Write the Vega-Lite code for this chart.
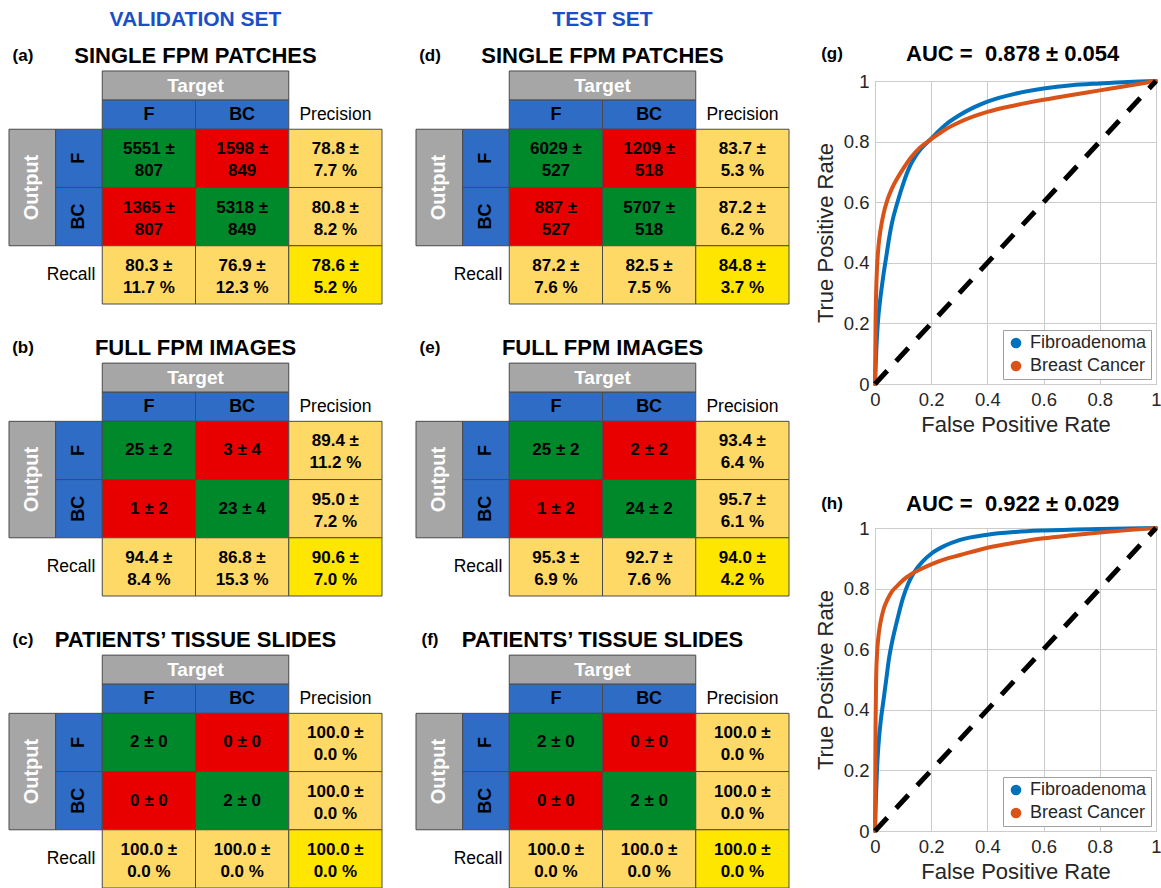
{
  "$schema": "https://vega.github.io/schema/vega-lite/v6.json",
  "padding": {"left": 8, "top": 8, "right": 0, "bottom": 0},
  "autosize": {"type": "pad"},
  "config": {
    "font": "Liberation Sans",
    "view": {"stroke": null},
    "title": {"fontWeight": "bold", "color": "black"},
    "axis": {"labelFontSize": 18.5, "titleFontSize": 22, "titleFontWeight": "normal", "labelColor": "#262626", "titleColor": "#262626", "gridColor": "#cccccc", "domain": false, "ticks": false, "labelFlush": false, "labelOverlap": false, "labelPadding": 6, "titlePadding": 6}
  },
  "datasets": {
    "grid": [
      {"id": "target", "c0": 2, "c1": 6, "r0": 0, "r1": 1, "cx": 4, "cy": 0.5, "kind": "gray", "role": "head", "label": "Target"},
      {"id": "hF", "c0": 2, "c1": 4, "r0": 1, "r1": 2, "cx": 3, "cy": 1.5, "kind": "blue", "role": "colhead", "label": "F"},
      {"id": "hBC", "c0": 4, "c1": 6, "r0": 1, "r1": 2, "cx": 5, "cy": 1.5, "kind": "blue", "role": "colhead", "label": "BC"},
      {"id": "prec", "c0": 6, "c1": 8, "r0": 1, "r1": 2, "cx": 7, "cy": 1.5, "kind": "none", "role": "plain", "label": "Precision"},
      {"id": "output", "c0": 0, "c1": 1, "r0": 2, "r1": 6, "cx": 0.5, "cy": 4, "kind": "gray", "role": "headrot", "label": "Output"},
      {"id": "rF", "c0": 1, "c1": 2, "r0": 2, "r1": 4, "cx": 1.5, "cy": 3, "kind": "blue", "role": "rowhead", "label": "F"},
      {"id": "rBC", "c0": 1, "c1": 2, "r0": 4, "r1": 6, "cx": 1.5, "cy": 5, "kind": "blue", "role": "rowhead", "label": "BC"},
      {"id": "recall", "c0": 0, "c1": 2, "r0": 6, "r1": 8, "cx": 1.33, "cy": 7, "kind": "none", "role": "plain", "label": "Recall"},
      {"id": "FF", "c0": 2, "c1": 4, "r0": 2, "r1": 4, "cx": 3, "cy": 3, "kind": "green", "role": "value", "label": ""},
      {"id": "FBC", "c0": 4, "c1": 6, "r0": 2, "r1": 4, "cx": 5, "cy": 3, "kind": "red", "role": "value", "label": ""},
      {"id": "FP", "c0": 6, "c1": 8, "r0": 2, "r1": 4, "cx": 7, "cy": 3, "kind": "light", "role": "value", "label": ""},
      {"id": "BF", "c0": 2, "c1": 4, "r0": 4, "r1": 6, "cx": 3, "cy": 5, "kind": "red", "role": "value", "label": ""},
      {"id": "BB", "c0": 4, "c1": 6, "r0": 4, "r1": 6, "cx": 5, "cy": 5, "kind": "green", "role": "value", "label": ""},
      {"id": "BP", "c0": 6, "c1": 8, "r0": 4, "r1": 6, "cx": 7, "cy": 5, "kind": "light", "role": "value", "label": ""},
      {"id": "RF", "c0": 2, "c1": 4, "r0": 6, "r1": 8, "cx": 3, "cy": 7, "kind": "light", "role": "value", "label": ""},
      {"id": "RB", "c0": 4, "c1": 6, "r0": 6, "r1": 8, "cx": 5, "cy": 7, "kind": "light", "role": "value", "label": ""},
      {"id": "ACC", "c0": 6, "c1": 8, "r0": 6, "r1": 8, "cx": 7, "cy": 7, "kind": "yellow", "role": "value", "label": ""}
    ],
    "vals": [
      {"panel": "a", "id": "FF", "text": "5551 ±\n807"},
      {"panel": "a", "id": "FBC", "text": "1598 ±\n849"},
      {"panel": "a", "id": "FP", "text": "78.8 ±\n7.7 %"},
      {"panel": "a", "id": "BF", "text": "1365 ±\n807"},
      {"panel": "a", "id": "BB", "text": "5318 ±\n849"},
      {"panel": "a", "id": "BP", "text": "80.8 ±\n8.2 %"},
      {"panel": "a", "id": "RF", "text": "80.3 ±\n11.7 %"},
      {"panel": "a", "id": "RB", "text": "76.9 ±\n12.3 %"},
      {"panel": "a", "id": "ACC", "text": "78.6 ±\n5.2 %"},
      {"panel": "b", "id": "FF", "text": "25 ± 2"},
      {"panel": "b", "id": "FBC", "text": "3 ± 4"},
      {"panel": "b", "id": "FP", "text": "89.4 ±\n11.2 %"},
      {"panel": "b", "id": "BF", "text": "1 ± 2"},
      {"panel": "b", "id": "BB", "text": "23 ± 4"},
      {"panel": "b", "id": "BP", "text": "95.0 ±\n7.2 %"},
      {"panel": "b", "id": "RF", "text": "94.4 ±\n8.4 %"},
      {"panel": "b", "id": "RB", "text": "86.8 ±\n15.3 %"},
      {"panel": "b", "id": "ACC", "text": "90.6 ±\n7.0 %"},
      {"panel": "c", "id": "FF", "text": "2 ± 0"},
      {"panel": "c", "id": "FBC", "text": "0 ± 0"},
      {"panel": "c", "id": "FP", "text": "100.0 ±\n0.0 %"},
      {"panel": "c", "id": "BF", "text": "0 ± 0"},
      {"panel": "c", "id": "BB", "text": "2 ± 0"},
      {"panel": "c", "id": "BP", "text": "100.0 ±\n0.0 %"},
      {"panel": "c", "id": "RF", "text": "100.0 ±\n0.0 %"},
      {"panel": "c", "id": "RB", "text": "100.0 ±\n0.0 %"},
      {"panel": "c", "id": "ACC", "text": "100.0 ±\n0.0 %"},
      {"panel": "d", "id": "FF", "text": "6029 ±\n527"},
      {"panel": "d", "id": "FBC", "text": "1209 ±\n518"},
      {"panel": "d", "id": "FP", "text": "83.7 ±\n5.3 %"},
      {"panel": "d", "id": "BF", "text": "887 ±\n527"},
      {"panel": "d", "id": "BB", "text": "5707 ±\n518"},
      {"panel": "d", "id": "BP", "text": "87.2 ±\n6.2 %"},
      {"panel": "d", "id": "RF", "text": "87.2 ±\n7.6 %"},
      {"panel": "d", "id": "RB", "text": "82.5 ±\n7.5 %"},
      {"panel": "d", "id": "ACC", "text": "84.8 ±\n3.7 %"},
      {"panel": "e", "id": "FF", "text": "25 ± 2"},
      {"panel": "e", "id": "FBC", "text": "2 ± 2"},
      {"panel": "e", "id": "FP", "text": "93.4 ±\n6.4 %"},
      {"panel": "e", "id": "BF", "text": "1 ± 2"},
      {"panel": "e", "id": "BB", "text": "24 ± 2"},
      {"panel": "e", "id": "BP", "text": "95.7 ±\n6.1 %"},
      {"panel": "e", "id": "RF", "text": "95.3 ±\n6.9 %"},
      {"panel": "e", "id": "RB", "text": "92.7 ±\n7.6 %"},
      {"panel": "e", "id": "ACC", "text": "94.0 ±\n4.2 %"},
      {"panel": "f", "id": "FF", "text": "2 ± 0"},
      {"panel": "f", "id": "FBC", "text": "0 ± 0"},
      {"panel": "f", "id": "FP", "text": "100.0 ±\n0.0 %"},
      {"panel": "f", "id": "BF", "text": "0 ± 0"},
      {"panel": "f", "id": "BB", "text": "2 ± 0"},
      {"panel": "f", "id": "BP", "text": "100.0 ±\n0.0 %"},
      {"panel": "f", "id": "RF", "text": "100.0 ±\n0.0 %"},
      {"panel": "f", "id": "RB", "text": "100.0 ±\n0.0 %"},
      {"panel": "f", "id": "ACC", "text": "100.0 ±\n0.0 %"}
    ],
    "rocG": [
      {"s": "Fibroadenoma", "fpr": 0, "tpr": 0},
      {"s": "Fibroadenoma", "fpr": 0.002, "tpr": 0.05},
      {"s": "Fibroadenoma", "fpr": 0.005, "tpr": 0.12},
      {"s": "Fibroadenoma", "fpr": 0.01, "tpr": 0.2},
      {"s": "Fibroadenoma", "fpr": 0.02, "tpr": 0.29},
      {"s": "Fibroadenoma", "fpr": 0.03, "tpr": 0.36},
      {"s": "Fibroadenoma", "fpr": 0.04, "tpr": 0.42},
      {"s": "Fibroadenoma", "fpr": 0.05, "tpr": 0.48},
      {"s": "Fibroadenoma", "fpr": 0.06, "tpr": 0.53},
      {"s": "Fibroadenoma", "fpr": 0.08, "tpr": 0.6},
      {"s": "Fibroadenoma", "fpr": 0.1, "tpr": 0.66},
      {"s": "Fibroadenoma", "fpr": 0.12, "tpr": 0.71},
      {"s": "Fibroadenoma", "fpr": 0.15, "tpr": 0.76},
      {"s": "Fibroadenoma", "fpr": 0.2, "tpr": 0.81},
      {"s": "Fibroadenoma", "fpr": 0.25, "tpr": 0.855},
      {"s": "Fibroadenoma", "fpr": 0.3, "tpr": 0.887},
      {"s": "Fibroadenoma", "fpr": 0.35, "tpr": 0.912},
      {"s": "Fibroadenoma", "fpr": 0.4, "tpr": 0.932},
      {"s": "Fibroadenoma", "fpr": 0.5, "tpr": 0.958},
      {"s": "Fibroadenoma", "fpr": 0.6, "tpr": 0.975},
      {"s": "Fibroadenoma", "fpr": 0.7, "tpr": 0.986},
      {"s": "Fibroadenoma", "fpr": 0.8, "tpr": 0.992},
      {"s": "Fibroadenoma", "fpr": 0.9, "tpr": 0.997},
      {"s": "Fibroadenoma", "fpr": 1, "tpr": 1},
      {"s": "Breast Cancer", "fpr": 0, "tpr": 0},
      {"s": "Breast Cancer", "fpr": 0.001, "tpr": 0.1},
      {"s": "Breast Cancer", "fpr": 0.002, "tpr": 0.2},
      {"s": "Breast Cancer", "fpr": 0.004, "tpr": 0.3},
      {"s": "Breast Cancer", "fpr": 0.007, "tpr": 0.38},
      {"s": "Breast Cancer", "fpr": 0.012, "tpr": 0.45},
      {"s": "Breast Cancer", "fpr": 0.02, "tpr": 0.51},
      {"s": "Breast Cancer", "fpr": 0.03, "tpr": 0.56},
      {"s": "Breast Cancer", "fpr": 0.045, "tpr": 0.61},
      {"s": "Breast Cancer", "fpr": 0.06, "tpr": 0.645},
      {"s": "Breast Cancer", "fpr": 0.08, "tpr": 0.68},
      {"s": "Breast Cancer", "fpr": 0.1, "tpr": 0.71},
      {"s": "Breast Cancer", "fpr": 0.13, "tpr": 0.75},
      {"s": "Breast Cancer", "fpr": 0.16, "tpr": 0.78},
      {"s": "Breast Cancer", "fpr": 0.2, "tpr": 0.808},
      {"s": "Breast Cancer", "fpr": 0.25, "tpr": 0.84},
      {"s": "Breast Cancer", "fpr": 0.3, "tpr": 0.864},
      {"s": "Breast Cancer", "fpr": 0.4, "tpr": 0.898},
      {"s": "Breast Cancer", "fpr": 0.5, "tpr": 0.92},
      {"s": "Breast Cancer", "fpr": 0.6, "tpr": 0.938},
      {"s": "Breast Cancer", "fpr": 0.7, "tpr": 0.954},
      {"s": "Breast Cancer", "fpr": 0.8, "tpr": 0.969},
      {"s": "Breast Cancer", "fpr": 0.9, "tpr": 0.984},
      {"s": "Breast Cancer", "fpr": 1, "tpr": 1}
    ],
    "rocH": [
      {"s": "Fibroadenoma", "fpr": 0, "tpr": 0},
      {"s": "Fibroadenoma", "fpr": 0.003, "tpr": 0.1},
      {"s": "Fibroadenoma", "fpr": 0.007, "tpr": 0.2},
      {"s": "Fibroadenoma", "fpr": 0.012, "tpr": 0.28},
      {"s": "Fibroadenoma", "fpr": 0.02, "tpr": 0.36},
      {"s": "Fibroadenoma", "fpr": 0.03, "tpr": 0.43},
      {"s": "Fibroadenoma", "fpr": 0.04, "tpr": 0.5},
      {"s": "Fibroadenoma", "fpr": 0.05, "tpr": 0.57},
      {"s": "Fibroadenoma", "fpr": 0.06, "tpr": 0.62},
      {"s": "Fibroadenoma", "fpr": 0.08, "tpr": 0.7},
      {"s": "Fibroadenoma", "fpr": 0.1, "tpr": 0.77},
      {"s": "Fibroadenoma", "fpr": 0.12, "tpr": 0.82},
      {"s": "Fibroadenoma", "fpr": 0.14, "tpr": 0.855},
      {"s": "Fibroadenoma", "fpr": 0.17, "tpr": 0.89},
      {"s": "Fibroadenoma", "fpr": 0.2, "tpr": 0.915},
      {"s": "Fibroadenoma", "fpr": 0.25, "tpr": 0.942},
      {"s": "Fibroadenoma", "fpr": 0.3, "tpr": 0.96},
      {"s": "Fibroadenoma", "fpr": 0.4, "tpr": 0.978},
      {"s": "Fibroadenoma", "fpr": 0.5, "tpr": 0.987},
      {"s": "Fibroadenoma", "fpr": 0.6, "tpr": 0.992},
      {"s": "Fibroadenoma", "fpr": 0.8, "tpr": 0.997},
      {"s": "Fibroadenoma", "fpr": 1, "tpr": 1},
      {"s": "Breast Cancer", "fpr": 0, "tpr": 0},
      {"s": "Breast Cancer", "fpr": 0.001, "tpr": 0.2},
      {"s": "Breast Cancer", "fpr": 0.002, "tpr": 0.35},
      {"s": "Breast Cancer", "fpr": 0.004, "tpr": 0.5},
      {"s": "Breast Cancer", "fpr": 0.007, "tpr": 0.58},
      {"s": "Breast Cancer", "fpr": 0.012, "tpr": 0.64},
      {"s": "Breast Cancer", "fpr": 0.02, "tpr": 0.69},
      {"s": "Breast Cancer", "fpr": 0.03, "tpr": 0.73},
      {"s": "Breast Cancer", "fpr": 0.045, "tpr": 0.765},
      {"s": "Breast Cancer", "fpr": 0.06, "tpr": 0.79},
      {"s": "Breast Cancer", "fpr": 0.08, "tpr": 0.81},
      {"s": "Breast Cancer", "fpr": 0.1, "tpr": 0.828},
      {"s": "Breast Cancer", "fpr": 0.13, "tpr": 0.848},
      {"s": "Breast Cancer", "fpr": 0.16, "tpr": 0.863},
      {"s": "Breast Cancer", "fpr": 0.2, "tpr": 0.88},
      {"s": "Breast Cancer", "fpr": 0.25, "tpr": 0.897},
      {"s": "Breast Cancer", "fpr": 0.3, "tpr": 0.91},
      {"s": "Breast Cancer", "fpr": 0.4, "tpr": 0.935},
      {"s": "Breast Cancer", "fpr": 0.5, "tpr": 0.952},
      {"s": "Breast Cancer", "fpr": 0.6, "tpr": 0.966},
      {"s": "Breast Cancer", "fpr": 0.7, "tpr": 0.976},
      {"s": "Breast Cancer", "fpr": 0.8, "tpr": 0.985},
      {"s": "Breast Cancer", "fpr": 0.9, "tpr": 0.993},
      {"s": "Breast Cancer", "fpr": 1, "tpr": 1}
    ]
  },
  "hconcat": [
    {
      "hconcat": [
        {
          "title": {"text": "VALIDATION SET", "anchor": "middle", "fontSize": 21, "color": "#1A4FC8", "offset": 15},
          "spacing": 29,
          "vconcat": [
            {
              "width": 373, "height": 223,
              "layer": [
                {"data": {"name": "grid"}, "transform": [{"filter": "datum.kind != 'none'"}], "mark": {"type": "rect", "stroke": "#4a4a4a", "strokeWidth": 1},
                 "encoding": {"x": {"field": "c0", "type": "quantitative", "scale": {"domain": [0, 8], "nice": false, "zero": false}, "axis": null}, "x2": {"field": "c1"}, "y": {"field": "r0", "type": "quantitative", "scale": {"domain": [0.344, 8], "reverse": true, "nice": false, "zero": false}, "axis": null}, "y2": {"field": "r1"}, "fill": {"field": "kind", "type": "nominal", "scale": {"domain": ["gray", "blue", "green", "red", "light", "yellow"], "range": ["#A6A6A6", "#2E6CC5", "#00892A", "#E80000", "#FFD966", "#FFE600"]}, "legend": null}}},
                {"data": {"name": "grid"}, "transform": [{"filter": "datum.role == 'head'"}], "mark": {"type": "text", "color": "white", "fontWeight": "bold", "fontSize": 19}, "encoding": {"x": {"field": "cx", "type": "quantitative"}, "y": {"field": "cy", "type": "quantitative"}, "text": {"field": "label"}}},
                {"data": {"name": "grid"}, "transform": [{"filter": "datum.role == 'headrot'"}], "mark": {"type": "text", "color": "white", "fontWeight": "bold", "fontSize": 20, "angle": 270}, "encoding": {"x": {"field": "cx", "type": "quantitative"}, "y": {"field": "cy", "type": "quantitative"}, "text": {"field": "label"}}},
                {"data": {"name": "grid"}, "transform": [{"filter": "datum.role == 'colhead'"}], "mark": {"type": "text", "color": "black", "fontWeight": "bold", "fontSize": 18}, "encoding": {"x": {"field": "cx", "type": "quantitative"}, "y": {"field": "cy", "type": "quantitative"}, "text": {"field": "label"}}},
                {"data": {"name": "grid"}, "transform": [{"filter": "datum.role == 'rowhead'"}], "mark": {"type": "text", "color": "black", "fontWeight": "bold", "fontSize": 18, "angle": 270}, "encoding": {"x": {"field": "cx", "type": "quantitative"}, "y": {"field": "cy", "type": "quantitative"}, "text": {"field": "label"}}},
                {"data": {"name": "grid"}, "transform": [{"filter": "datum.role == 'plain'"}], "mark": {"type": "text", "color": "black", "fontSize": 17.5}, "encoding": {"x": {"field": "cx", "type": "quantitative"}, "y": {"field": "cy", "type": "quantitative"}, "text": {"field": "label"}}},
                {"data": {"name": "vals"}, "transform": [{"filter": "datum.panel == 'a' && indexof(datum.text, '\\n') >= 0"}, {"lookup": "id", "from": {"data": {"name": "grid"}, "key": "id", "fields": ["cx", "cy"]}}], "mark": {"type": "text", "color": "black", "fontWeight": "bold", "fontSize": 17, "lineHeight": 22, "lineBreak": "\n", "dy": -9}, "encoding": {"x": {"field": "cx", "type": "quantitative"}, "y": {"field": "cy", "type": "quantitative"}, "text": {"field": "text"}}},
                {"data": {"name": "vals"}, "transform": [{"filter": "datum.panel == 'a' && indexof(datum.text, '\\n') < 0"}, {"lookup": "id", "from": {"data": {"name": "grid"}, "key": "id", "fields": ["cx", "cy"]}}], "mark": {"type": "text", "color": "black", "fontWeight": "bold", "fontSize": 17}, "encoding": {"x": {"field": "cx", "type": "quantitative"}, "y": {"field": "cy", "type": "quantitative"}, "text": {"field": "text"}}},
                {"data": {"values": [{}]}, "mark": {"type": "text", "fontWeight": "bold", "fontSize": 22}, "encoding": {"x": {"datum": 4}, "y": {"datum": -0.52}, "text": {"value": "SINGLE FPM PATCHES"}}},
                {"data": {"values": [{}]}, "mark": {"type": "text", "fontWeight": "bold", "fontSize": 17}, "encoding": {"x": {"datum": 0.3}, "y": {"datum": -0.52}, "text": {"value": "(a)"}}}
              ]
            },
            {
              "width": 373, "height": 262,
              "layer": [
                {"data": {"name": "grid"}, "transform": [{"filter": "datum.kind != 'none'"}], "mark": {"type": "rect", "stroke": "#4a4a4a", "strokeWidth": 1},
                 "encoding": {"x": {"field": "c0", "type": "quantitative", "scale": {"domain": [0, 8], "nice": false, "zero": false}, "axis": null}, "x2": {"field": "c1"}, "y": {"field": "r0", "type": "quantitative", "scale": {"domain": [-1, 8], "reverse": true, "nice": false, "zero": false}, "axis": null}, "y2": {"field": "r1"}, "fill": {"field": "kind", "type": "nominal", "scale": {"domain": ["gray", "blue", "green", "red", "light", "yellow"], "range": ["#A6A6A6", "#2E6CC5", "#00892A", "#E80000", "#FFD966", "#FFE600"]}, "legend": null}}},
                {"data": {"name": "grid"}, "transform": [{"filter": "datum.role == 'head'"}], "mark": {"type": "text", "color": "white", "fontWeight": "bold", "fontSize": 19}, "encoding": {"x": {"field": "cx", "type": "quantitative"}, "y": {"field": "cy", "type": "quantitative"}, "text": {"field": "label"}}},
                {"data": {"name": "grid"}, "transform": [{"filter": "datum.role == 'headrot'"}], "mark": {"type": "text", "color": "white", "fontWeight": "bold", "fontSize": 20, "angle": 270}, "encoding": {"x": {"field": "cx", "type": "quantitative"}, "y": {"field": "cy", "type": "quantitative"}, "text": {"field": "label"}}},
                {"data": {"name": "grid"}, "transform": [{"filter": "datum.role == 'colhead'"}], "mark": {"type": "text", "color": "black", "fontWeight": "bold", "fontSize": 18}, "encoding": {"x": {"field": "cx", "type": "quantitative"}, "y": {"field": "cy", "type": "quantitative"}, "text": {"field": "label"}}},
                {"data": {"name": "grid"}, "transform": [{"filter": "datum.role == 'rowhead'"}], "mark": {"type": "text", "color": "black", "fontWeight": "bold", "fontSize": 18, "angle": 270}, "encoding": {"x": {"field": "cx", "type": "quantitative"}, "y": {"field": "cy", "type": "quantitative"}, "text": {"field": "label"}}},
                {"data": {"name": "grid"}, "transform": [{"filter": "datum.role == 'plain'"}], "mark": {"type": "text", "color": "black", "fontSize": 17.5}, "encoding": {"x": {"field": "cx", "type": "quantitative"}, "y": {"field": "cy", "type": "quantitative"}, "text": {"field": "label"}}},
                {"data": {"name": "vals"}, "transform": [{"filter": "datum.panel == 'b' && indexof(datum.text, '\\n') >= 0"}, {"lookup": "id", "from": {"data": {"name": "grid"}, "key": "id", "fields": ["cx", "cy"]}}], "mark": {"type": "text", "color": "black", "fontWeight": "bold", "fontSize": 17, "lineHeight": 22, "lineBreak": "\n", "dy": -9}, "encoding": {"x": {"field": "cx", "type": "quantitative"}, "y": {"field": "cy", "type": "quantitative"}, "text": {"field": "text"}}},
                {"data": {"name": "vals"}, "transform": [{"filter": "datum.panel == 'b' && indexof(datum.text, '\\n') < 0"}, {"lookup": "id", "from": {"data": {"name": "grid"}, "key": "id", "fields": ["cx", "cy"]}}], "mark": {"type": "text", "color": "black", "fontWeight": "bold", "fontSize": 17}, "encoding": {"x": {"field": "cx", "type": "quantitative"}, "y": {"field": "cy", "type": "quantitative"}, "text": {"field": "text"}}},
                {"data": {"values": [{}]}, "mark": {"type": "text", "fontWeight": "bold", "fontSize": 22}, "encoding": {"x": {"datum": 4}, "y": {"datum": -0.52}, "text": {"value": "FULL FPM IMAGES"}}},
                {"data": {"values": [{}]}, "mark": {"type": "text", "fontWeight": "bold", "fontSize": 17}, "encoding": {"x": {"datum": 0.3}, "y": {"datum": -0.52}, "text": {"value": "(b)"}}}
              ]
            },
            {
              "width": 373, "height": 262,
              "layer": [
                {"data": {"name": "grid"}, "transform": [{"filter": "datum.kind != 'none'"}], "mark": {"type": "rect", "stroke": "#4a4a4a", "strokeWidth": 1},
                 "encoding": {"x": {"field": "c0", "type": "quantitative", "scale": {"domain": [0, 8], "nice": false, "zero": false}, "axis": null}, "x2": {"field": "c1"}, "y": {"field": "r0", "type": "quantitative", "scale": {"domain": [-1, 8], "reverse": true, "nice": false, "zero": false}, "axis": null}, "y2": {"field": "r1"}, "fill": {"field": "kind", "type": "nominal", "scale": {"domain": ["gray", "blue", "green", "red", "light", "yellow"], "range": ["#A6A6A6", "#2E6CC5", "#00892A", "#E80000", "#FFD966", "#FFE600"]}, "legend": null}}},
                {"data": {"name": "grid"}, "transform": [{"filter": "datum.role == 'head'"}], "mark": {"type": "text", "color": "white", "fontWeight": "bold", "fontSize": 19}, "encoding": {"x": {"field": "cx", "type": "quantitative"}, "y": {"field": "cy", "type": "quantitative"}, "text": {"field": "label"}}},
                {"data": {"name": "grid"}, "transform": [{"filter": "datum.role == 'headrot'"}], "mark": {"type": "text", "color": "white", "fontWeight": "bold", "fontSize": 20, "angle": 270}, "encoding": {"x": {"field": "cx", "type": "quantitative"}, "y": {"field": "cy", "type": "quantitative"}, "text": {"field": "label"}}},
                {"data": {"name": "grid"}, "transform": [{"filter": "datum.role == 'colhead'"}], "mark": {"type": "text", "color": "black", "fontWeight": "bold", "fontSize": 18}, "encoding": {"x": {"field": "cx", "type": "quantitative"}, "y": {"field": "cy", "type": "quantitative"}, "text": {"field": "label"}}},
                {"data": {"name": "grid"}, "transform": [{"filter": "datum.role == 'rowhead'"}], "mark": {"type": "text", "color": "black", "fontWeight": "bold", "fontSize": 18, "angle": 270}, "encoding": {"x": {"field": "cx", "type": "quantitative"}, "y": {"field": "cy", "type": "quantitative"}, "text": {"field": "label"}}},
                {"data": {"name": "grid"}, "transform": [{"filter": "datum.role == 'plain'"}], "mark": {"type": "text", "color": "black", "fontSize": 17.5}, "encoding": {"x": {"field": "cx", "type": "quantitative"}, "y": {"field": "cy", "type": "quantitative"}, "text": {"field": "label"}}},
                {"data": {"name": "vals"}, "transform": [{"filter": "datum.panel == 'c' && indexof(datum.text, '\\n') >= 0"}, {"lookup": "id", "from": {"data": {"name": "grid"}, "key": "id", "fields": ["cx", "cy"]}}], "mark": {"type": "text", "color": "black", "fontWeight": "bold", "fontSize": 17, "lineHeight": 22, "lineBreak": "\n", "dy": -9}, "encoding": {"x": {"field": "cx", "type": "quantitative"}, "y": {"field": "cy", "type": "quantitative"}, "text": {"field": "text"}}},
                {"data": {"name": "vals"}, "transform": [{"filter": "datum.panel == 'c' && indexof(datum.text, '\\n') < 0"}, {"lookup": "id", "from": {"data": {"name": "grid"}, "key": "id", "fields": ["cx", "cy"]}}], "mark": {"type": "text", "color": "black", "fontWeight": "bold", "fontSize": 17}, "encoding": {"x": {"field": "cx", "type": "quantitative"}, "y": {"field": "cy", "type": "quantitative"}, "text": {"field": "text"}}},
                {"data": {"values": [{}]}, "mark": {"type": "text", "fontWeight": "bold", "fontSize": 22}, "encoding": {"x": {"datum": 4}, "y": {"datum": -0.52}, "text": {"value": "PATIENTS’ TISSUE SLIDES"}}},
                {"data": {"values": [{}]}, "mark": {"type": "text", "fontWeight": "bold", "fontSize": 17}, "encoding": {"x": {"datum": 0.3}, "y": {"datum": -0.52}, "text": {"value": "(c)"}}}
              ]
            }
          ]
        },
        {
          "title": {"text": "TEST SET", "anchor": "middle", "fontSize": 21, "color": "#1A4FC8", "offset": 15},
          "spacing": 29,
          "vconcat": [
            {
              "width": 373, "height": 223,
              "layer": [
                {"data": {"name": "grid"}, "transform": [{"filter": "datum.kind != 'none'"}], "mark": {"type": "rect", "stroke": "#4a4a4a", "strokeWidth": 1},
                 "encoding": {"x": {"field": "c0", "type": "quantitative", "scale": {"domain": [0, 8], "nice": false, "zero": false}, "axis": null}, "x2": {"field": "c1"}, "y": {"field": "r0", "type": "quantitative", "scale": {"domain": [0.344, 8], "reverse": true, "nice": false, "zero": false}, "axis": null}, "y2": {"field": "r1"}, "fill": {"field": "kind", "type": "nominal", "scale": {"domain": ["gray", "blue", "green", "red", "light", "yellow"], "range": ["#A6A6A6", "#2E6CC5", "#00892A", "#E80000", "#FFD966", "#FFE600"]}, "legend": null}}},
                {"data": {"name": "grid"}, "transform": [{"filter": "datum.role == 'head'"}], "mark": {"type": "text", "color": "white", "fontWeight": "bold", "fontSize": 19}, "encoding": {"x": {"field": "cx", "type": "quantitative"}, "y": {"field": "cy", "type": "quantitative"}, "text": {"field": "label"}}},
                {"data": {"name": "grid"}, "transform": [{"filter": "datum.role == 'headrot'"}], "mark": {"type": "text", "color": "white", "fontWeight": "bold", "fontSize": 20, "angle": 270}, "encoding": {"x": {"field": "cx", "type": "quantitative"}, "y": {"field": "cy", "type": "quantitative"}, "text": {"field": "label"}}},
                {"data": {"name": "grid"}, "transform": [{"filter": "datum.role == 'colhead'"}], "mark": {"type": "text", "color": "black", "fontWeight": "bold", "fontSize": 18}, "encoding": {"x": {"field": "cx", "type": "quantitative"}, "y": {"field": "cy", "type": "quantitative"}, "text": {"field": "label"}}},
                {"data": {"name": "grid"}, "transform": [{"filter": "datum.role == 'rowhead'"}], "mark": {"type": "text", "color": "black", "fontWeight": "bold", "fontSize": 18, "angle": 270}, "encoding": {"x": {"field": "cx", "type": "quantitative"}, "y": {"field": "cy", "type": "quantitative"}, "text": {"field": "label"}}},
                {"data": {"name": "grid"}, "transform": [{"filter": "datum.role == 'plain'"}], "mark": {"type": "text", "color": "black", "fontSize": 17.5}, "encoding": {"x": {"field": "cx", "type": "quantitative"}, "y": {"field": "cy", "type": "quantitative"}, "text": {"field": "label"}}},
                {"data": {"name": "vals"}, "transform": [{"filter": "datum.panel == 'd' && indexof(datum.text, '\\n') >= 0"}, {"lookup": "id", "from": {"data": {"name": "grid"}, "key": "id", "fields": ["cx", "cy"]}}], "mark": {"type": "text", "color": "black", "fontWeight": "bold", "fontSize": 17, "lineHeight": 22, "lineBreak": "\n", "dy": -9}, "encoding": {"x": {"field": "cx", "type": "quantitative"}, "y": {"field": "cy", "type": "quantitative"}, "text": {"field": "text"}}},
                {"data": {"name": "vals"}, "transform": [{"filter": "datum.panel == 'd' && indexof(datum.text, '\\n') < 0"}, {"lookup": "id", "from": {"data": {"name": "grid"}, "key": "id", "fields": ["cx", "cy"]}}], "mark": {"type": "text", "color": "black", "fontWeight": "bold", "fontSize": 17}, "encoding": {"x": {"field": "cx", "type": "quantitative"}, "y": {"field": "cy", "type": "quantitative"}, "text": {"field": "text"}}},
                {"data": {"values": [{}]}, "mark": {"type": "text", "fontWeight": "bold", "fontSize": 22}, "encoding": {"x": {"datum": 4}, "y": {"datum": -0.52}, "text": {"value": "SINGLE FPM PATCHES"}}},
                {"data": {"values": [{}]}, "mark": {"type": "text", "fontWeight": "bold", "fontSize": 17}, "encoding": {"x": {"datum": 0.3}, "y": {"datum": -0.52}, "text": {"value": "(d)"}}}
              ]
            },
            {
              "width": 373, "height": 262,
              "layer": [
                {"data": {"name": "grid"}, "transform": [{"filter": "datum.kind != 'none'"}], "mark": {"type": "rect", "stroke": "#4a4a4a", "strokeWidth": 1},
                 "encoding": {"x": {"field": "c0", "type": "quantitative", "scale": {"domain": [0, 8], "nice": false, "zero": false}, "axis": null}, "x2": {"field": "c1"}, "y": {"field": "r0", "type": "quantitative", "scale": {"domain": [-1, 8], "reverse": true, "nice": false, "zero": false}, "axis": null}, "y2": {"field": "r1"}, "fill": {"field": "kind", "type": "nominal", "scale": {"domain": ["gray", "blue", "green", "red", "light", "yellow"], "range": ["#A6A6A6", "#2E6CC5", "#00892A", "#E80000", "#FFD966", "#FFE600"]}, "legend": null}}},
                {"data": {"name": "grid"}, "transform": [{"filter": "datum.role == 'head'"}], "mark": {"type": "text", "color": "white", "fontWeight": "bold", "fontSize": 19}, "encoding": {"x": {"field": "cx", "type": "quantitative"}, "y": {"field": "cy", "type": "quantitative"}, "text": {"field": "label"}}},
                {"data": {"name": "grid"}, "transform": [{"filter": "datum.role == 'headrot'"}], "mark": {"type": "text", "color": "white", "fontWeight": "bold", "fontSize": 20, "angle": 270}, "encoding": {"x": {"field": "cx", "type": "quantitative"}, "y": {"field": "cy", "type": "quantitative"}, "text": {"field": "label"}}},
                {"data": {"name": "grid"}, "transform": [{"filter": "datum.role == 'colhead'"}], "mark": {"type": "text", "color": "black", "fontWeight": "bold", "fontSize": 18}, "encoding": {"x": {"field": "cx", "type": "quantitative"}, "y": {"field": "cy", "type": "quantitative"}, "text": {"field": "label"}}},
                {"data": {"name": "grid"}, "transform": [{"filter": "datum.role == 'rowhead'"}], "mark": {"type": "text", "color": "black", "fontWeight": "bold", "fontSize": 18, "angle": 270}, "encoding": {"x": {"field": "cx", "type": "quantitative"}, "y": {"field": "cy", "type": "quantitative"}, "text": {"field": "label"}}},
                {"data": {"name": "grid"}, "transform": [{"filter": "datum.role == 'plain'"}], "mark": {"type": "text", "color": "black", "fontSize": 17.5}, "encoding": {"x": {"field": "cx", "type": "quantitative"}, "y": {"field": "cy", "type": "quantitative"}, "text": {"field": "label"}}},
                {"data": {"name": "vals"}, "transform": [{"filter": "datum.panel == 'e' && indexof(datum.text, '\\n') >= 0"}, {"lookup": "id", "from": {"data": {"name": "grid"}, "key": "id", "fields": ["cx", "cy"]}}], "mark": {"type": "text", "color": "black", "fontWeight": "bold", "fontSize": 17, "lineHeight": 22, "lineBreak": "\n", "dy": -9}, "encoding": {"x": {"field": "cx", "type": "quantitative"}, "y": {"field": "cy", "type": "quantitative"}, "text": {"field": "text"}}},
                {"data": {"name": "vals"}, "transform": [{"filter": "datum.panel == 'e' && indexof(datum.text, '\\n') < 0"}, {"lookup": "id", "from": {"data": {"name": "grid"}, "key": "id", "fields": ["cx", "cy"]}}], "mark": {"type": "text", "color": "black", "fontWeight": "bold", "fontSize": 17}, "encoding": {"x": {"field": "cx", "type": "quantitative"}, "y": {"field": "cy", "type": "quantitative"}, "text": {"field": "text"}}},
                {"data": {"values": [{}]}, "mark": {"type": "text", "fontWeight": "bold", "fontSize": 22}, "encoding": {"x": {"datum": 4}, "y": {"datum": -0.52}, "text": {"value": "FULL FPM IMAGES"}}},
                {"data": {"values": [{}]}, "mark": {"type": "text", "fontWeight": "bold", "fontSize": 17}, "encoding": {"x": {"datum": 0.3}, "y": {"datum": -0.52}, "text": {"value": "(e)"}}}
              ]
            },
            {
              "width": 373, "height": 262,
              "layer": [
                {"data": {"name": "grid"}, "transform": [{"filter": "datum.kind != 'none'"}], "mark": {"type": "rect", "stroke": "#4a4a4a", "strokeWidth": 1},
                 "encoding": {"x": {"field": "c0", "type": "quantitative", "scale": {"domain": [0, 8], "nice": false, "zero": false}, "axis": null}, "x2": {"field": "c1"}, "y": {"field": "r0", "type": "quantitative", "scale": {"domain": [-1, 8], "reverse": true, "nice": false, "zero": false}, "axis": null}, "y2": {"field": "r1"}, "fill": {"field": "kind", "type": "nominal", "scale": {"domain": ["gray", "blue", "green", "red", "light", "yellow"], "range": ["#A6A6A6", "#2E6CC5", "#00892A", "#E80000", "#FFD966", "#FFE600"]}, "legend": null}}},
                {"data": {"name": "grid"}, "transform": [{"filter": "datum.role == 'head'"}], "mark": {"type": "text", "color": "white", "fontWeight": "bold", "fontSize": 19}, "encoding": {"x": {"field": "cx", "type": "quantitative"}, "y": {"field": "cy", "type": "quantitative"}, "text": {"field": "label"}}},
                {"data": {"name": "grid"}, "transform": [{"filter": "datum.role == 'headrot'"}], "mark": {"type": "text", "color": "white", "fontWeight": "bold", "fontSize": 20, "angle": 270}, "encoding": {"x": {"field": "cx", "type": "quantitative"}, "y": {"field": "cy", "type": "quantitative"}, "text": {"field": "label"}}},
                {"data": {"name": "grid"}, "transform": [{"filter": "datum.role == 'colhead'"}], "mark": {"type": "text", "color": "black", "fontWeight": "bold", "fontSize": 18}, "encoding": {"x": {"field": "cx", "type": "quantitative"}, "y": {"field": "cy", "type": "quantitative"}, "text": {"field": "label"}}},
                {"data": {"name": "grid"}, "transform": [{"filter": "datum.role == 'rowhead'"}], "mark": {"type": "text", "color": "black", "fontWeight": "bold", "fontSize": 18, "angle": 270}, "encoding": {"x": {"field": "cx", "type": "quantitative"}, "y": {"field": "cy", "type": "quantitative"}, "text": {"field": "label"}}},
                {"data": {"name": "grid"}, "transform": [{"filter": "datum.role == 'plain'"}], "mark": {"type": "text", "color": "black", "fontSize": 17.5}, "encoding": {"x": {"field": "cx", "type": "quantitative"}, "y": {"field": "cy", "type": "quantitative"}, "text": {"field": "label"}}},
                {"data": {"name": "vals"}, "transform": [{"filter": "datum.panel == 'f' && indexof(datum.text, '\\n') >= 0"}, {"lookup": "id", "from": {"data": {"name": "grid"}, "key": "id", "fields": ["cx", "cy"]}}], "mark": {"type": "text", "color": "black", "fontWeight": "bold", "fontSize": 17, "lineHeight": 22, "lineBreak": "\n", "dy": -9}, "encoding": {"x": {"field": "cx", "type": "quantitative"}, "y": {"field": "cy", "type": "quantitative"}, "text": {"field": "text"}}},
                {"data": {"name": "vals"}, "transform": [{"filter": "datum.panel == 'f' && indexof(datum.text, '\\n') < 0"}, {"lookup": "id", "from": {"data": {"name": "grid"}, "key": "id", "fields": ["cx", "cy"]}}], "mark": {"type": "text", "color": "black", "fontWeight": "bold", "fontSize": 17}, "encoding": {"x": {"field": "cx", "type": "quantitative"}, "y": {"field": "cy", "type": "quantitative"}, "text": {"field": "text"}}},
                {"data": {"values": [{}]}, "mark": {"type": "text", "fontWeight": "bold", "fontSize": 22}, "encoding": {"x": {"datum": 4}, "y": {"datum": -0.52}, "text": {"value": "PATIENTS’ TISSUE SLIDES"}}},
                {"data": {"values": [{}]}, "mark": {"type": "text", "fontWeight": "bold", "fontSize": 17}, "encoding": {"x": {"datum": 0.3}, "y": {"datum": -0.52}, "text": {"value": "(f)"}}}
              ]
            }
          ]
        }
      ],
      "spacing": 32
    },
    {
      "spacing": 56,
      "resolve": {"scale": {"color": "independent"}, "legend": {"color": "independent"}},
      "vconcat": [
        {
          "width": 281, "height": 303,
          "view": {"stroke": "#a6a6a6"},
          "layer": [
            {"data": {"name": "rocG"}, "mark": {"type": "line", "strokeWidth": 4, "interpolate": "monotone", "strokeCap": "round"},
             "encoding": {
               "x": {"field": "fpr", "type": "quantitative", "scale": {"domain": [0, 1], "nice": false}, "axis": {"title": "False Positive Rate", "values": [0, 0.2, 0.4, 0.6, 0.8, 1], "format": "~g"}},
               "y": {"field": "tpr", "type": "quantitative", "scale": {"domain": [0, 1], "nice": false}, "axis": {"title": "True Positive Rate", "values": [0, 0.2, 0.4, 0.6, 0.8, 1], "format": "~g"}},
               "color": {"field": "s", "type": "nominal", "sort": null, "scale": {"domain": ["Fibroadenoma", "Breast Cancer"], "range": ["#0072BD", "#D95319"]}, "legend": {"title": null, "orient": "bottom-right", "offset": 5, "padding": 4, "strokeColor": "#a0a0a0", "fillColor": "white", "labelFontSize": 18, "labelColor": "#262626", "symbolType": "circle", "symbolSize": 113, "symbolStrokeWidth": 0, "rowPadding": 5, "labelOffset": 5, "encode": {"symbols": {"update": {"fill": {"signal": "datum.value === 'Fibroadenoma' ? '#0072BD' : '#D95319'"}, "strokeWidth": {"value": 0}}}}}}
             }},
            {"data": {"values": [{}]}, "mark": {"type": "rule", "color": "black", "strokeWidth": 5, "strokeDash": [18, 13]}, "encoding": {"x": {"datum": 0}, "y": {"datum": 0}, "x2": {"datum": 1}, "y2": {"datum": 1}}},
            {"data": {"values": [{}]}, "mark": {"type": "text", "fontWeight": "bold", "fontSize": 17}, "encoding": {"x": {"datum": -0.153}, "y": {"datum": 1.089}, "text": {"value": "(g)"}}},
            {"data": {"values": [{}]}, "mark": {"type": "text", "fontWeight": "bold", "fontSize": 22}, "encoding": {"x": {"datum": 0.49}, "y": {"datum": 1.089}, "text": {"value": "AUC = \u00a00.878 ± 0.054"}}}
          ]
        },
        {
          "width": 281, "height": 303,
          "view": {"stroke": "#a6a6a6"},
          "layer": [
            {"data": {"name": "rocH"}, "mark": {"type": "line", "strokeWidth": 4, "interpolate": "monotone", "strokeCap": "round"},
             "encoding": {
               "x": {"field": "fpr", "type": "quantitative", "scale": {"domain": [0, 1], "nice": false}, "axis": {"title": "False Positive Rate", "values": [0, 0.2, 0.4, 0.6, 0.8, 1], "format": "~g"}},
               "y": {"field": "tpr", "type": "quantitative", "scale": {"domain": [0, 1], "nice": false}, "axis": {"title": "True Positive Rate", "values": [0, 0.2, 0.4, 0.6, 0.8, 1], "format": "~g"}},
               "color": {"field": "s", "type": "nominal", "sort": null, "scale": {"domain": ["Fibroadenoma", "Breast Cancer"], "range": ["#0072BD", "#D95319"]}, "legend": {"title": null, "orient": "bottom-right", "offset": 5, "padding": 4, "strokeColor": "#a0a0a0", "fillColor": "white", "labelFontSize": 18, "labelColor": "#262626", "symbolType": "circle", "symbolSize": 113, "symbolStrokeWidth": 0, "rowPadding": 5, "labelOffset": 5, "encode": {"symbols": {"update": {"fill": {"signal": "datum.value === 'Fibroadenoma' ? '#0072BD' : '#D95319'"}, "strokeWidth": {"value": 0}}}}}}
             }},
            {"data": {"values": [{}]}, "mark": {"type": "rule", "color": "black", "strokeWidth": 5, "strokeDash": [18, 13]}, "encoding": {"x": {"datum": 0}, "y": {"datum": 0}, "x2": {"datum": 1}, "y2": {"datum": 1}}},
            {"data": {"values": [{}]}, "mark": {"type": "text", "fontWeight": "bold", "fontSize": 17}, "encoding": {"x": {"datum": -0.153}, "y": {"datum": 1.08}, "text": {"value": "(h)"}}},
            {"data": {"values": [{}]}, "mark": {"type": "text", "fontWeight": "bold", "fontSize": 22}, "encoding": {"x": {"datum": 0.49}, "y": {"datum": 1.08}, "text": {"value": "AUC = \u00a00.922 ± 0.029"}}}
          ]
        }
      ]
    }
  ],
  "spacing": 23
}
